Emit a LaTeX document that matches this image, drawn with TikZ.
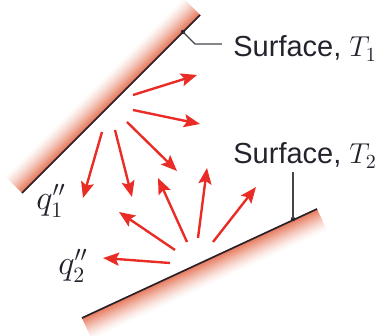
\documentclass[tikz,border=0pt]{standalone}
\usepackage{fontspec}
\setmainfont{Liberation Sans}
\usetikzlibrary{arrows.meta,calc}
\definecolor{fluxred}{RGB}{234,44,38}
\definecolor{wallcol}{RGB}{230,118,88}
\definecolor{inkcol}{RGB}{35,35,45}
\begin{document}
\begin{tikzpicture}[x=0.5pt,y=-0.5pt,
    flux/.style={fluxred, line width=1.2pt,
      -{Stealth[length=8pt,width=6.5pt,inset=1.5pt]}},
    lead/.style={inkcol!85, line width=0.6pt},
    lab/.style={inkcol, font=\fontsize{14.5}{17}\selectfont, inner sep=0pt}]
  \useasboundingbox (0,0) rectangle (382,336);
  % the two walls
  \coordinate (u1) at (22,193);
  \coordinate (u2) at (200,15);
  \coordinate (l1) at (82,318);
  \coordinate (l2) at (317,209);
  \foreach \d in {23,22,...,0} {
    \pgfmathtruncatemacro\pct{100*(1-\d/24)^1.4}
    \draw[wallcol!\pct!white, line width=0.75pt]
      ($(u1)+(-0.707*\d,-0.707*\d)$) -- ($(u2)+(-0.707*\d,-0.707*\d)$);
    \draw[wallcol!\pct!white, line width=0.75pt]
      ($(l1)+(0.421*\d,0.907*\d)$) -- ($(l2)+(0.421*\d,0.907*\d)$);
  }
  \draw[inkcol, line width=0.8pt] (u1) -- (u2);
  \draw[inkcol, line width=0.8pt] (l1) -- (l2);
  % emitted fluxes
  \foreach \xa/\ya/\xb/\yb in {133/95/197/75, 133/110/200/124, 127/122/177/171,
      115/130/132/197, 102/132/83/198} {
    \draw[flux] (\xa,\ya) -- (\xb,\yb);
  }
  \foreach \xa/\ya/\xb/\yb in {170/263/103/258, 175/250/119/212, 187/242/158/178,
      198/238/207/168, 213/242/256/187} {
    \draw[flux] (\xa,\ya) -- (\xb,\yb);
  }
  % labels
  \node[lab, anchor=base west] (s1) at (233,57) {Surface, $T_1$};
  \node[lab, anchor=base west] (s2) at (233,164) {Surface, $T_2$};
  \node[lab, font=\fontsize{16}{19}\selectfont] (q1) at (51,201) {$q_1''$};
  \node[lab, font=\fontsize{16}{19}\selectfont] (q2) at (73,266) {$q_2''$};
  \coordinate (d1) at (183,32);
  \coordinate (k1) at (195,44);
  \coordinate (d2) at (293,219);
  \coordinate (k2) at (293,172);
  \fill[inkcol] (d1) circle (2.2);
  \fill[inkcol] (d2) circle (2.2);
  \draw[lead] (d1) -- (k1) -- ($(k1 -| s1.west)+(-11,0)$);
  \draw[lead] (d2) -- (k2);
\end{tikzpicture}
\end{document}
